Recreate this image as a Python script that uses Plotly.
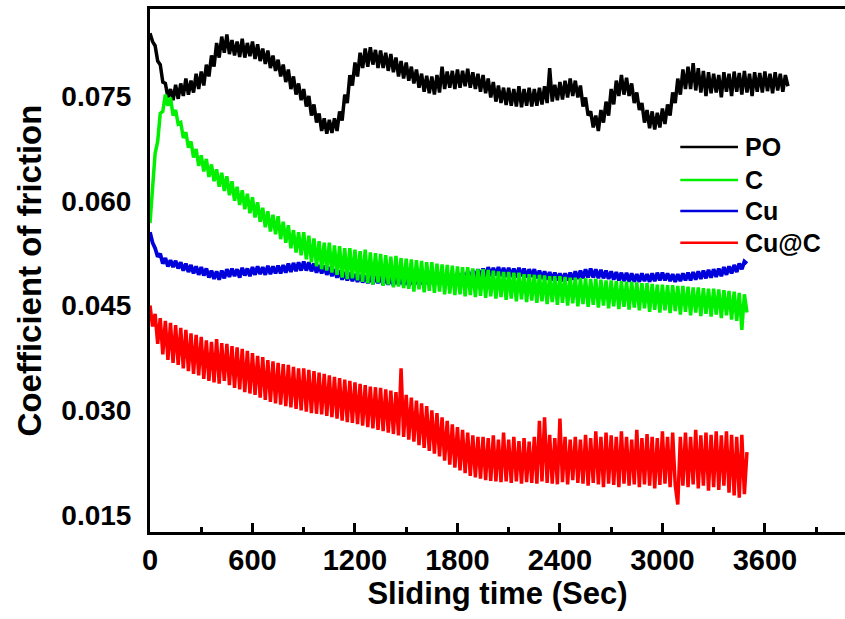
import numpy as np
import plotly.graph_objects as go

# sampling step of the friction tester (s)
dt = 15

names = ["PO", "C", "Cu", "Cu@C"]
colors = ["#000000", "#00F000", "#0000DD", "#FF0000"]

po_cof = [0.0840, 0.0828, 0.0822, 0.0800, 0.0795, 0.0770, 0.0768, 0.0748, 0.0760, 0.0744,
          0.0766, 0.0746, 0.0768, 0.0750, 0.0775, 0.0752, 0.0772, 0.0755, 0.0782, 0.0760,
          0.0785, 0.0765, 0.0795, 0.0778, 0.0808, 0.0792, 0.0826, 0.0805, 0.0835, 0.0812,
          0.0838, 0.0810, 0.0830, 0.0808, 0.0828, 0.0806, 0.0832, 0.0805, 0.0826, 0.0807,
          0.0828, 0.0803, 0.0824, 0.0800, 0.0818, 0.0796, 0.0815, 0.0790, 0.0808, 0.0786,
          0.0802, 0.0778, 0.0795, 0.0770, 0.0788, 0.0760, 0.0778, 0.0752, 0.0768, 0.0744,
          0.0760, 0.0735, 0.0750, 0.0722, 0.0738, 0.0712, 0.0725, 0.0700, 0.0718, 0.0696,
          0.0716, 0.0697, 0.0718, 0.0700, 0.0728, 0.0715, 0.0752, 0.0740, 0.0780, 0.0765,
          0.0798, 0.0778, 0.0812, 0.0790, 0.0818, 0.0792, 0.0820, 0.0795, 0.0816, 0.0790,
          0.0815, 0.0790, 0.0812, 0.0786, 0.0810, 0.0784, 0.0805, 0.0778, 0.0800, 0.0775,
          0.0798, 0.0772, 0.0792, 0.0768, 0.0788, 0.0762, 0.0782, 0.0756, 0.0779, 0.0754,
          0.0778, 0.0752, 0.0780, 0.0755, 0.0792, 0.0760, 0.0785, 0.0762, 0.0786, 0.0760,
          0.0788, 0.0762, 0.0786, 0.0764, 0.0789, 0.0762, 0.0784, 0.0760, 0.0782, 0.0756,
          0.0780, 0.0754, 0.0775, 0.0748, 0.0770, 0.0742, 0.0765, 0.0740, 0.0762, 0.0737,
          0.0762, 0.0736, 0.0760, 0.0735, 0.0764, 0.0734, 0.0760, 0.0736, 0.0762, 0.0735,
          0.0760, 0.0736, 0.0762, 0.0738, 0.0764, 0.0740, 0.0790, 0.0742, 0.0766, 0.0744,
          0.0770, 0.0745, 0.0772, 0.0748, 0.0775, 0.0750, 0.0772, 0.0748, 0.0765, 0.0735,
          0.0748, 0.0722, 0.0728, 0.0705, 0.0722, 0.0700, 0.0730, 0.0712, 0.0742, 0.0722,
          0.0760, 0.0738, 0.0772, 0.0750, 0.0780, 0.0752, 0.0776, 0.0750, 0.0768, 0.0740,
          0.0755, 0.0730, 0.0740, 0.0712, 0.0730, 0.0704, 0.0728, 0.0702, 0.0726, 0.0705,
          0.0732, 0.0710, 0.0738, 0.0722, 0.0755, 0.0740, 0.0775, 0.0752, 0.0788, 0.0760,
          0.0792, 0.0760, 0.0797, 0.0758, 0.0790, 0.0755, 0.0786, 0.0750, 0.0784, 0.0754,
          0.0782, 0.0755, 0.0780, 0.0748, 0.0784, 0.0756, 0.0782, 0.0750, 0.0785, 0.0756,
          0.0783, 0.0752, 0.0786, 0.0755, 0.0782, 0.0750, 0.0784, 0.0756, 0.0783, 0.0755,
          0.0785, 0.0757, 0.0782, 0.0754, 0.0784, 0.0758, 0.0782, 0.0756, 0.0780, 0.0764]

c_cof = [0.0568, 0.0615, 0.0668, 0.0685, 0.0725, 0.0728, 0.0752, 0.0736, 0.0748, 0.0722,
         0.0730, 0.0710, 0.0712, 0.0690, 0.0698, 0.0676, 0.0685, 0.0662, 0.0674, 0.0650,
         0.0665, 0.0642, 0.0660, 0.0634, 0.0652, 0.0628, 0.0645, 0.0620, 0.0640, 0.0614,
         0.0635, 0.0608, 0.0628, 0.0600, 0.0620, 0.0594, 0.0615, 0.0588, 0.0610, 0.0582,
         0.0605, 0.0576, 0.0598, 0.0570, 0.0590, 0.0562, 0.0585, 0.0556, 0.0580, 0.0552,
         0.0578, 0.0545, 0.0570, 0.0540, 0.0565, 0.0532, 0.0558, 0.0526, 0.0555, 0.0522,
         0.0555, 0.0516, 0.0550, 0.0512, 0.0546, 0.0506, 0.0542, 0.0502, 0.0540, 0.0500,
         0.0540, 0.0497, 0.0536, 0.0494, 0.0535, 0.0490, 0.0532, 0.0488, 0.0532, 0.0489,
         0.0530, 0.0486, 0.0528, 0.0484, 0.0530, 0.0482, 0.0526, 0.0480, 0.0525, 0.0483,
         0.0524, 0.0478, 0.0522, 0.0480, 0.0520, 0.0476, 0.0521, 0.0477, 0.0518, 0.0475,
         0.0517, 0.0474, 0.0516, 0.0470, 0.0515, 0.0473, 0.0514, 0.0469, 0.0512, 0.0471,
         0.0512, 0.0468, 0.0510, 0.0470, 0.0509, 0.0466, 0.0508, 0.0467, 0.0507, 0.0465,
         0.0506, 0.0466, 0.0505, 0.0463, 0.0505, 0.0465, 0.0503, 0.0462, 0.0502, 0.0464,
         0.0502, 0.0461, 0.0501, 0.0463, 0.0500, 0.0460, 0.0499, 0.0462, 0.0498, 0.0458,
         0.0498, 0.0460, 0.0497, 0.0456, 0.0497, 0.0459, 0.0495, 0.0455, 0.0495, 0.0457,
         0.0494, 0.0454, 0.0494, 0.0456, 0.0493, 0.0452, 0.0492, 0.0455, 0.0492, 0.0451,
         0.0492, 0.0454, 0.0491, 0.0450, 0.0490, 0.0453, 0.0490, 0.0449, 0.0489, 0.0452,
         0.0489, 0.0448, 0.0488, 0.0451, 0.0488, 0.0447, 0.0487, 0.0450, 0.0486, 0.0446,
         0.0486, 0.0449, 0.0485, 0.0445, 0.0485, 0.0448, 0.0484, 0.0444, 0.0484, 0.0447,
         0.0483, 0.0443, 0.0482, 0.0446, 0.0482, 0.0441, 0.0481, 0.0444, 0.0480, 0.0440,
         0.0480, 0.0443, 0.0479, 0.0439, 0.0479, 0.0442, 0.0478, 0.0437, 0.0478, 0.0441,
         0.0477, 0.0436, 0.0476, 0.0440, 0.0476, 0.0435, 0.0475, 0.0438, 0.0474, 0.0434,
         0.0474, 0.0437, 0.0473, 0.0432, 0.0472, 0.0436, 0.0471, 0.0430, 0.0470, 0.0428,
         0.0468, 0.0415, 0.0466, 0.0440]

cu_cof = [0.0555, 0.0540, 0.0532, 0.0520, 0.0524, 0.0510, 0.0518, 0.0506, 0.0515, 0.0505,
          0.0514, 0.0503, 0.0512, 0.0500, 0.0510, 0.0498, 0.0508, 0.0496, 0.0506, 0.0494,
          0.0505, 0.0493, 0.0503, 0.0490, 0.0500, 0.0488, 0.0499, 0.0487, 0.0500, 0.0489,
          0.0502, 0.0491, 0.0503, 0.0492, 0.0502, 0.0490, 0.0504, 0.0493, 0.0503, 0.0492,
          0.0505, 0.0494, 0.0506, 0.0495, 0.0505, 0.0494, 0.0507, 0.0495, 0.0506, 0.0496,
          0.0507, 0.0496, 0.0508, 0.0497, 0.0510, 0.0498, 0.0511, 0.0499, 0.0512, 0.0500,
          0.0513, 0.0500, 0.0512, 0.0499, 0.0510, 0.0497, 0.0508, 0.0496, 0.0507, 0.0494,
          0.0505, 0.0492, 0.0502, 0.0490, 0.0500, 0.0487, 0.0498, 0.0486, 0.0497, 0.0485,
          0.0495, 0.0484, 0.0494, 0.0483, 0.0493, 0.0482, 0.0493, 0.0481, 0.0492, 0.0482,
          0.0492, 0.0480, 0.0491, 0.0480, 0.0490, 0.0479, 0.0491, 0.0480, 0.0490, 0.0479,
          0.0490, 0.0478, 0.0489, 0.0479, 0.0490, 0.0478, 0.0489, 0.0479, 0.0490, 0.0480,
          0.0491, 0.0480, 0.0492, 0.0481, 0.0493, 0.0482, 0.0494, 0.0483, 0.0495, 0.0484,
          0.0496, 0.0485, 0.0497, 0.0486, 0.0499, 0.0488, 0.0500, 0.0489, 0.0502, 0.0490,
          0.0503, 0.0491, 0.0505, 0.0492, 0.0504, 0.0493, 0.0505, 0.0492, 0.0504, 0.0491,
          0.0504, 0.0491, 0.0503, 0.0490, 0.0504, 0.0492, 0.0503, 0.0490, 0.0502, 0.0491,
          0.0502, 0.0489, 0.0500, 0.0488, 0.0499, 0.0487, 0.0498, 0.0486, 0.0497, 0.0486,
          0.0496, 0.0485, 0.0496, 0.0486, 0.0497, 0.0487, 0.0499, 0.0488, 0.0500, 0.0489,
          0.0502, 0.0490, 0.0503, 0.0490, 0.0502, 0.0489, 0.0501, 0.0489, 0.0500, 0.0488,
          0.0499, 0.0487, 0.0498, 0.0486, 0.0497, 0.0485, 0.0497, 0.0484, 0.0496, 0.0484,
          0.0495, 0.0484, 0.0496, 0.0485, 0.0495, 0.0484, 0.0496, 0.0485, 0.0497, 0.0486,
          0.0497, 0.0486, 0.0496, 0.0485, 0.0495, 0.0484, 0.0495, 0.0485, 0.0496, 0.0486,
          0.0497, 0.0486, 0.0498, 0.0487, 0.0499, 0.0488, 0.0500, 0.0489, 0.0501, 0.0490,
          0.0502, 0.0491, 0.0503, 0.0492, 0.0505, 0.0494, 0.0506, 0.0496, 0.0508, 0.0498,
          0.0510, 0.0502, 0.0513, 0.0510]

cuc_cof = [0.0450, 0.0420, 0.0438, 0.0395, 0.0432, 0.0380, 0.0428, 0.0372, 0.0425, 0.0368,
           0.0422, 0.0365, 0.0418, 0.0360, 0.0415, 0.0356, 0.0410, 0.0352, 0.0408, 0.0350,
           0.0405, 0.0345, 0.0400, 0.0342, 0.0398, 0.0340, 0.0402, 0.0338, 0.0396, 0.0342,
           0.0395, 0.0336, 0.0392, 0.0332, 0.0390, 0.0330, 0.0388, 0.0326, 0.0385, 0.0324,
           0.0382, 0.0322, 0.0378, 0.0318, 0.0376, 0.0315, 0.0372, 0.0312, 0.0370, 0.0310,
           0.0368, 0.0308, 0.0366, 0.0306, 0.0365, 0.0304, 0.0362, 0.0302, 0.0360, 0.0300,
           0.0360, 0.0298, 0.0358, 0.0296, 0.0356, 0.0295, 0.0354, 0.0294, 0.0352, 0.0292,
           0.0350, 0.0290, 0.0348, 0.0288, 0.0346, 0.0285, 0.0344, 0.0283, 0.0342, 0.0282,
           0.0340, 0.0280, 0.0338, 0.0278, 0.0336, 0.0276, 0.0334, 0.0274, 0.0333, 0.0272,
           0.0332, 0.0270, 0.0330, 0.0268, 0.0328, 0.0266, 0.0326, 0.0264, 0.0360, 0.0262,
           0.0322, 0.0258, 0.0318, 0.0255, 0.0314, 0.0250, 0.0310, 0.0246, 0.0306, 0.0242,
           0.0300, 0.0238, 0.0296, 0.0234, 0.0290, 0.0228, 0.0285, 0.0222, 0.0280, 0.0218,
           0.0276, 0.0214, 0.0272, 0.0210, 0.0268, 0.0206, 0.0264, 0.0204, 0.0262, 0.0202,
           0.0262, 0.0200, 0.0260, 0.0199, 0.0264, 0.0198, 0.0258, 0.0197, 0.0268, 0.0198,
           0.0258, 0.0196, 0.0262, 0.0198, 0.0256, 0.0195, 0.0260, 0.0197, 0.0255, 0.0196,
           0.0262, 0.0195, 0.0285, 0.0198, 0.0290, 0.0196, 0.0265, 0.0195, 0.0260, 0.0194,
           0.0288, 0.0197, 0.0262, 0.0194, 0.0258, 0.0200, 0.0262, 0.0196, 0.0258, 0.0195,
           0.0265, 0.0192, 0.0260, 0.0196, 0.0270, 0.0194, 0.0262, 0.0190, 0.0268, 0.0195,
           0.0264, 0.0193, 0.0262, 0.0190, 0.0270, 0.0195, 0.0262, 0.0192, 0.0258, 0.0194,
           0.0272, 0.0190, 0.0260, 0.0194, 0.0266, 0.0192, 0.0262, 0.0188, 0.0260, 0.0193,
           0.0270, 0.0195, 0.0262, 0.0190, 0.0268, 0.0193, 0.0165, 0.0262, 0.0192, 0.0268,
           0.0190, 0.0262, 0.0194, 0.0272, 0.0188, 0.0264, 0.0192, 0.0268, 0.0185, 0.0265,
           0.0190, 0.0270, 0.0186, 0.0264, 0.0192, 0.0270, 0.0182, 0.0265, 0.0178, 0.0262,
           0.0175, 0.0265, 0.0180, 0.0240]

series = [po_cof, c_cof, cu_cof, cuc_cof]
widths = [3.5, 3.5, 3.8, 3.5]
draw_order = [0, 2, 1, 3]   # green sits over blue in the original

font_fam = "Liberation Sans, Arial, sans-serif"

fig = go.Figure()
for i in draw_order:
    y = series[i]
    fig.add_trace(go.Scatter(x=np.arange(len(y)) * dt, y=y, mode="lines",
                             name=names[i], showlegend=False,
                             line=dict(color=colors[i], width=widths[i])))

# hand-made legend, like the origin plot
leg_y = [0.736, 0.673, 0.614, 0.553]
for i in range(4):
    fig.add_shape(type="line", xref="paper", yref="paper",
                  x0=0.763, x1=0.846, y0=leg_y[i], y1=leg_y[i],
                  line=dict(color=colors[i], width=2.5))
    fig.add_annotation(xref="paper", yref="paper", x=0.853, y=leg_y[i],
                       text=names[i], showarrow=False, xanchor="left", yanchor="middle",
                       font=dict(family=font_fam, size=25, color="black", weight="bold"))

fig.update_layout(
    width=845, height=619,
    margin=dict(l=150, r=0, t=9, b=87, autoexpand=False),
    plot_bgcolor="white", paper_bgcolor="white",
    font=dict(family=font_fam, color="black", weight="bold"),
)
fig.update_xaxes(range=[0, 4069], tickvals=[0, 600, 1200, 1800, 2400, 3000, 3600],
                 ticks="inside", ticklen=9, tickwidth=3, tickcolor="black",
                 minor=dict(dtick=300, tick0=0, ticks="inside", ticklen=5, tickwidth=3, tickcolor="black"),
                 showline=True, linewidth=3, linecolor="black", mirror=True,
                 showgrid=False, zeroline=False, automargin=False,
                 tickfont=dict(size=29, family=font_fam, weight="bold"),
                 title=dict(text="Sliding time (Sec)", standoff=6,
                            font=dict(size=31, family=font_fam, weight="bold")))
fig.update_yaxes(range=[0.01257, 0.08746], tickvals=[0.015, 0.030, 0.045, 0.060, 0.075],
                 tickformat=".3f", ticks="", ticklabelstandoff=10,
                 showline=True, linewidth=3, linecolor="black",
                 showgrid=False, zeroline=False, automargin=False,
                 tickfont=dict(size=28, family=font_fam, weight="bold"),
                 title=dict(text="Coefficient of friction", standoff=10,
                            font=dict(size=33, family=font_fam, weight="bold")))

# page body has a default 8px margin; drop it so the figure sits at 0,0
fig.write_html("out.html", config={"displayModeBar": False},
               post_script="document.body.style.margin='0';")
